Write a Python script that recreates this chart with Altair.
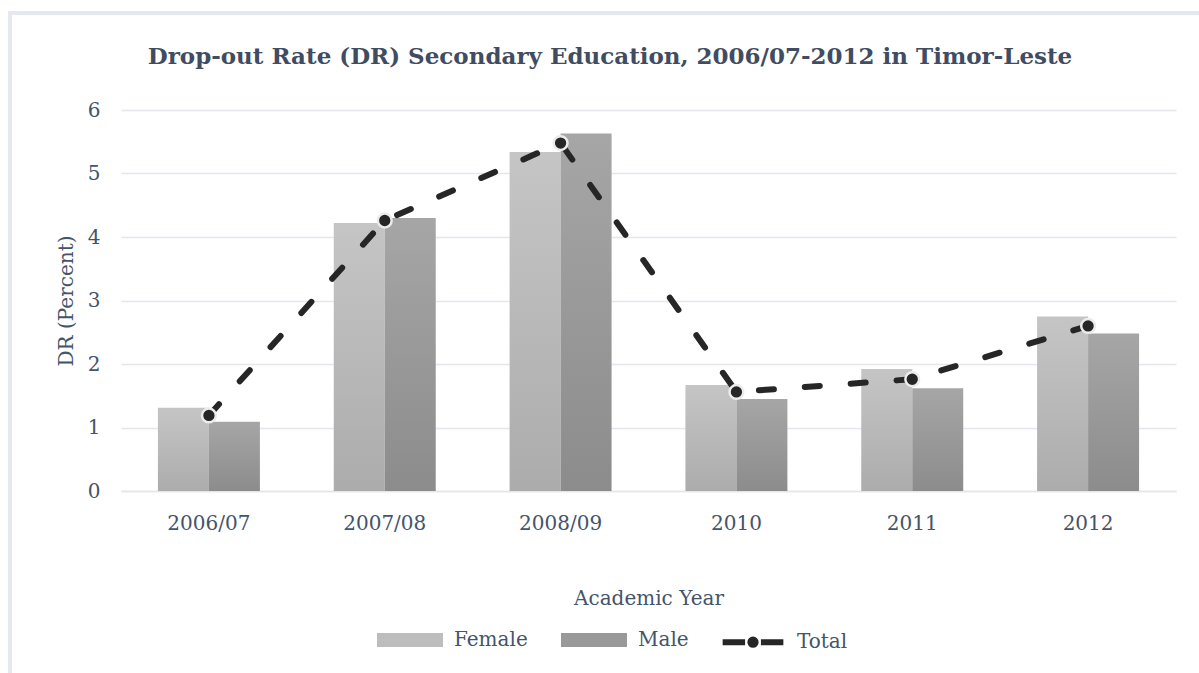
import altair as alt
import pandas as pd

years = ["2006/07", "2007/08", "2008/09", "2010", "2011", "2012"]
female = [1.31, 4.22, 5.34, 1.67, 1.92, 2.75]
male = [1.09, 4.30, 5.63, 1.45, 1.62, 2.48]
total = [1.19, 4.26, 5.48, 1.56, 1.76, 2.60]
series = ["Female", "Male", "Total"]
title_text = "Drop-out Rate (DR) Secondary Education, 2006/07-2012 in Timor-Leste"

FONT = "DejaVu Serif"
TXT = "#44546a"

bars = pd.DataFrame({
    "Year": years * 2,
    "Series": ["Female"] * len(years) + ["Male"] * len(years),
    "Value": female + male,
})
tot = pd.DataFrame({"Year": years, "Value": total})
leg = pd.DataFrame({"Series": series})
one = pd.DataFrame({"t": [title_text]})

xscale = alt.Scale(domain=years, paddingInner=0.42, paddingOuter=0.21)
yscale = alt.Scale(domain=[0, 6])
xoff = alt.XOffset("Series:N", scale=alt.Scale(domain=["Female", "Male"]))

xaxis = alt.Axis(title="Academic Year", labelAngle=0, ticks=False, domainColor="#e3e6eb",
                 domainWidth=1.5, labelPadding=22, titlePadding=55, labelFontSize=20,
                 titleFontSize=20, labelColor=TXT, titleColor=TXT, labelFont=FONT,
                 titleFont=FONT, titleFontWeight="normal")
yaxis = alt.Axis(title="DR (Percent)", values=[0, 1, 2, 3, 4, 5, 6], format="d", ticks=False,
                 domain=False, gridColor="#e3e6eb", gridWidth=1.5, labelPadding=21,
                 titlePadding=11, labelFontSize=20, titleFontSize=20, labelColor=TXT,
                 titleColor=TXT, labelFont=FONT, titleFont=FONT, titleFontWeight="normal")

def grad(top, bottom):
    return alt.Gradient(gradient="linear", x1=0, x2=0, y1=0, y2=1,
                        stops=[alt.GradientStop(color=top, offset=0),
                               alt.GradientStop(color=bottom, offset=1)])

base = alt.Chart(bars)
fbar = base.transform_filter(alt.datum.Series == "Female").mark_bar(
    fill=grad("#c5c5c5", "#acacac")).encode(
    x=alt.X("Year:N", scale=xscale, axis=xaxis, sort=years),
    xOffset=xoff,
    y=alt.Y("Value:Q", scale=yscale, axis=yaxis),
)
mbar = base.transform_filter(alt.datum.Series == "Male").mark_bar(
    fill=grad("#a6a6a6", "#8c8c8c")).encode(
    x=alt.X("Year:N", scale=xscale, sort=years),
    xOffset=xoff,
    y=alt.Y("Value:Q", scale=yscale),
)
line = alt.Chart(tot).mark_line(color="#262626", strokeWidth=6, strokeDash=[15, 31],
                                strokeCap="round").encode(
    x=alt.X("Year:N", scale=xscale, sort=years),
    y=alt.Y("Value:Q", scale=yscale),
)
pts = alt.Chart(tot).mark_point(shape="circle", filled=True, fill="#262626", stroke="#ececec",
                                strokeWidth=2.5, size=190, opacity=1).encode(
    x=alt.X("Year:N", scale=xscale, sort=years),
    y=alt.Y("Value:Q", scale=yscale),
)

rect_path = "M-1,-0.21H1V0.21H-1Z"
tot_path = ("M-0.92,0H-0.24M0.24,0H0.92M0.08,0A0.08,0.08,0,1,1,-0.08,0"
            "A0.08,0.08,0,1,1,0.08,0Z")
legend = alt.Legend(title=None, orient="none", legendX=253, legendY=494, direction="horizontal",
                    symbolSize=4356, symbolStrokeWidth=6, symbolOpacity=1,
                    labelFont=FONT, labelFontSize=20, labelColor=TXT, labelOffset=8,
                    columnPadding=21, labelLimit=200)
legpts = alt.Chart(leg).mark_point(opacity=0, filled=True).encode(
    fill=alt.Fill("Series:N", scale=alt.Scale(domain=series,
                  range=["#bdbdbd", "#999999", "#262626"]), legend=legend),
    stroke=alt.Stroke("Series:N", scale=alt.Scale(domain=series,
                      range=["transparent", "transparent", "#262626"]), legend=legend),
    shape=alt.Shape("Series:N", scale=alt.Scale(domain=series,
                    range=[rect_path, rect_path, tot_path]), legend=legend),
)

title = alt.Chart(one).mark_text(font=FONT, fontSize=23, fontWeight="bold", color="#3f4c62",
                                 align="center", baseline="middle").encode(
    text="t:N", x=alt.value(489), y=alt.value(-53))

frame_l = alt.Chart(one).mark_rule(color="#e5e8ed", strokeWidth=4).encode(
    x=alt.value(-111), y=alt.value(-97), y2=alt.value(600))
frame_t = alt.Chart(one).mark_rule(color="#e5e8ed", strokeWidth=4).encode(
    x=alt.value(-113), x2=alt.value(1100), y=alt.value(-97))

chart = alt.layer(frame_l, frame_t, title, fbar, mbar, line, pts, legpts).properties(
    width=1055, height=381,
    background="white",
    autosize=alt.AutoSizeParams(type="none"),
    padding={"left": 121, "top": 110, "right": 23, "bottom": 182},
).configure_view(strokeWidth=0)

chart.save("out.html", embed_options={"renderer": "svg", "actions": False})
